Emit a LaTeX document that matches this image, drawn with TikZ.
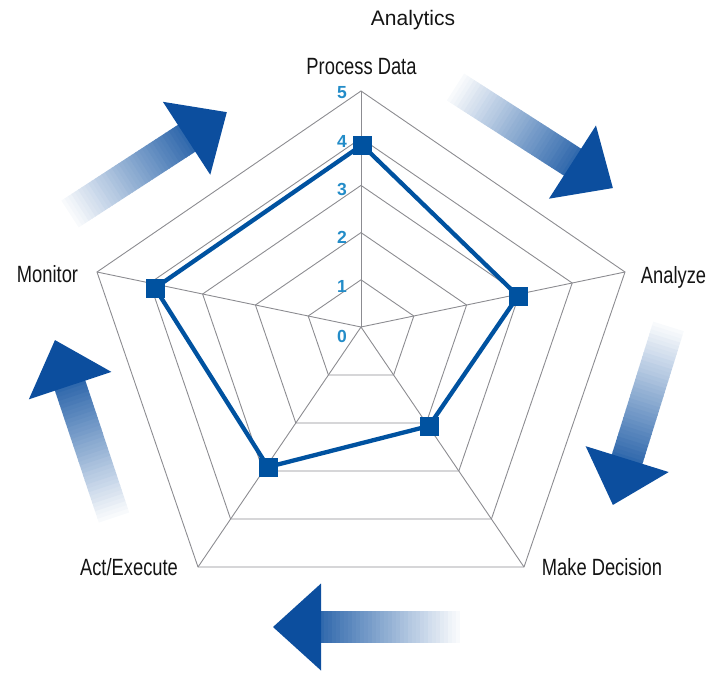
\documentclass[tikz,border=0pt]{standalone}
\usepackage{fontspec}
\setmainfont{Liberation Sans}
\newfontfamily\narrowfont{Liberation Sans}[FakeStretch=0.78]
\definecolor{arrowblue}{RGB}{12,78,158}
\definecolor{datablue}{RGB}{0,82,160}
\definecolor{gridgray}{RGB}{140,140,145}
\definecolor{scaleblue}{RGB}{35,140,200}
\newcommand\fadearrow[2]{%
  \begin{scope}[shift={#1}, rotate=#2]
    \foreach \i in {0,...,34}{
      \pgfmathtruncatemacro\pc{3+82*\i/34}
      \fill[arrowblue!\pc!white] ({\i*4},-16) rectangle ({\i*4+4.6},16);
    }
    \fill[arrowblue] (139,-43.5) -- (187,0) -- (139,43.5) -- cycle;
  \end{scope}}
\begin{document}
\begin{tikzpicture}[x=1pt,y=-1pt,
  gridline/.style={draw=gridgray, line width=0.9pt, line join=miter},
  dataline/.style={draw=datablue, line width=4.3pt, line join=miter},
  datapt/.style={fill=datablue, minimum size=19pt, inner sep=0pt, rectangle},
  axislabel/.style={font=\narrowfont\fontsize{23.5}{26}\selectfont, text=black!92, inner sep=0pt, anchor=base},
  scalelabel/.style={font=\bfseries\fontsize{17.5}{19}\selectfont, text=scaleblue, inner sep=0pt, anchor=base},
]
\useasboundingbox (0,0) rectangle (708,672);

% gradient arrows
\fadearrow{(70,214)}{33}
\fadearrow{(455.5,87)}{-32.7}
\fadearrow{(668.5,326.4)}{-107.3}
\fadearrow{(460,627)}{180}
\fadearrow{(114,517.5)}{108.4}

% grid
\coordinate (C) at (361,327);
\begin{scope}[shift={(361,327)}]
  \foreach \l in {1,...,5}{
    \draw[gridline] (0,{-236*\l/5}) -- ({264*\l/5},{-55*\l/5}) -- ({163*\l/5},{240*\l/5})
      -- ({-163*\l/5},{240*\l/5}) -- ({-264*\l/5},{-55*\l/5}) -- cycle;
  }
\end{scope}
\coordinate (vPD) at (361,91);
\coordinate (vAN) at (625,272);
\coordinate (vMD) at (524,567);
\coordinate (vAE) at (198,567);
\coordinate (vMO) at (97,272);
\foreach \v in {vPD,vAN,vMD,vAE,vMO} \draw[gridline] (C) -- (\v);

% scale labels
\node[scalelabel] (s5) at (342,98.5) {5};
\node[scalelabel] (s4) at (342,147.5) {4};
\node[scalelabel] (s3) at (342,195.5) {3};
\node[scalelabel] (s2) at (342,243.5) {2};
\node[scalelabel] (s1) at (342,292.5) {1};
\node[scalelabel] (s0) at (342,342.5) {0};

% data
\node[datapt] (PD) at (362,145) {};
\node[datapt] (AN) at (518,296) {};
\node[datapt] (MD) at (429,426) {};
\node[datapt] (AE) at (268,467) {};
\node[datapt] (MO) at (155,288) {};
\draw[dataline] (PD.center) -- (AN.center) -- (MD.center) -- (AE.center) -- (MO.center) -- cycle;

% labels
\node[font=\fontsize{21}{24}\selectfont, text=black!92, inner sep=0pt, anchor=base] (title) at (413,25) {Analytics};
\node[axislabel] (lPD) at (361.5,74) {Process Data};
\node[axislabel] (lAN) at (673.5,283) {Analyze};
\node[axislabel] (lMO) at (47.5,282) {Monitor};
\node[axislabel] (lAE) at (129,575) {Act/Execute};
\node[axislabel] (lMD) at (602,575) {Make Decision};
\end{tikzpicture}
\end{document}
